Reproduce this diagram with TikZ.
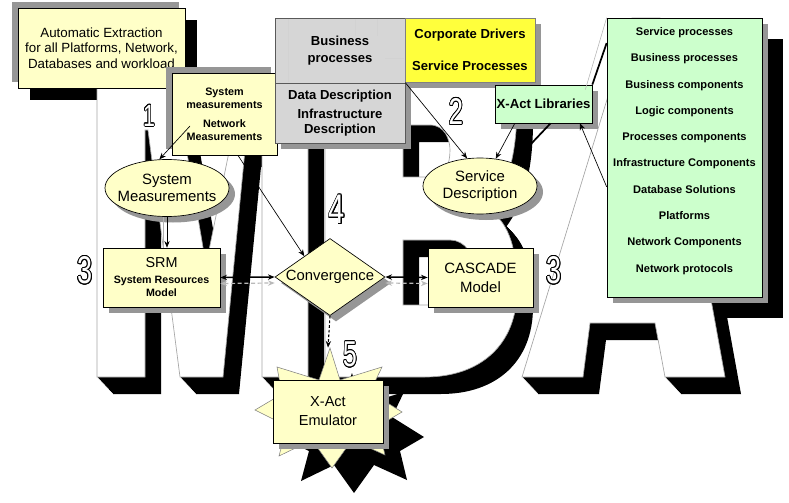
\documentclass[tikz,border=0pt]{standalone}
\usepackage{fontspec}
\setmainfont{Liberation Sans}
\usepackage{graphicx}
\usepackage{contour}
\contourlength{0.7pt}
\usetikzlibrary{shapes.geometric,shadows,arrows.meta}
\definecolor{yellowl}{RGB}{255,255,200}
\definecolor{yellowb}{RGB}{255,255,60}
\definecolor{greenl}{RGB}{204,255,204}
\definecolor{boxgray}{RGB}{214,214,214}
\definecolor{shgray}{RGB}{150,150,150}
\definecolor{outl}{RGB}{165,165,165}
\newcommand{\setfs}[2]{\fontsize{#1pt}{#2pt}\selectfont}
\begin{document}
\begin{tikzpicture}[x=0.75pt,y=-0.75pt,
  >={Stealth[length=5pt,width=4pt]},
  sh/.style={drop shadow={shadow xshift=4.5pt,shadow yshift=-4.5pt,fill=shgray,opacity=1}},
  shtl/.style={general shadow={shadow xshift=-4.5pt,shadow yshift=4.5pt,fill=shgray,opacity=1}},
  ybox/.style={rectangle,draw=black,line width=0.5pt,fill=yellowl,inner sep=0pt,align=center},
  gbox/.style={rectangle,draw=gray!70!black,line width=0.5pt,fill=boxgray,inner sep=0pt,align=center},
  gnbox/.style={rectangle,draw=black,line width=0.5pt,fill=greenl,inner sep=0pt,align=center},
  yell/.style={ellipse,draw=black,line width=0.5pt,fill=yellowl,inner xsep=-5pt,inner ysep=0pt,align=center,font=\setfs{11.2}{12.75}},
  diam/.style={diamond,aspect=1.43,draw=black,line width=0.5pt,fill=yellowl,inner sep=0pt,
     minimum width=110*0.75pt,minimum height=77*0.75pt,font=\setfs{11.1}{12}},
  arr/.style={->,line width=0.5pt},
  hdarr/.style={<->,line width=1.1pt},
  gdarr/.style={<->,draw=gray!55,dash pattern=on 3pt off 2pt,line width=0.9pt},
  cdash/.style={->,line width=0.8pt,dash pattern=on 2pt off 1.5pt},
  digit/.style={text=white,inner sep=0pt}
]
\useasboundingbox (0,0) rectangle (789,503);
\fill[white] (0,0) rectangle (789,503);

% black drop shadows lying under the letters
\fill[black] (30,20) rectangle (197,100);
\fill[black] (628,39) rectangle (783,318);

% big background letters with black extrusion
\def\Mpath{(97,88) -- (176,88) -- (206,265) -- (242,88) -- (308,88) -- (308,377) -- (262,377) -- (262,150) -- (245,150) -- (223,377) -- (180,377) -- (148,130) -- (145,130) -- (145,377) -- (97,377) -- cycle}
\def\Bpath{(325,25) -- (455,25) .. controls (495,25) and (517,60) .. (517,105) .. controls (517,160) and (505,190) .. (490,210) .. controls (510,225) and (517,250) .. (517,290) .. controls (517,345) and (480,377) .. (425,377) -- (325,377) -- cycle
 (403,125) -- (430,125) .. controls (445,125) and (450,140) .. (450,150) .. controls (450,165) and (445,177) .. (430,177) -- (403,177) -- cycle
 (403,240) -- (450,240) .. controls (465,240) and (475,255) .. (475,272) .. controls (475,292) and (465,305) .. (450,305) -- (403,305) -- cycle}
\def\Apath{(522,377) -- (632,18) -- (660,18) -- (725,377) -- (665,377) -- (655,323) -- (590,323) -- (583,377) -- cycle}

\foreach \i in {1,...,17}{\fill[black,shift={(\i*16/17,\i)}] \Mpath;}
\filldraw[fill=white,draw=outl,line width=0.5pt] \Mpath;
\foreach \i in {1,...,17}{\fill[black,even odd rule,shift={(\i*16/17,\i)}] \Bpath;}
\filldraw[fill=white,draw=outl,line width=0.5pt,even odd rule] \Bpath;
\foreach \i in {1,...,17}{\fill[black,shift={(\i*16/17,\i)}] \Apath;}
\filldraw[fill=white,draw=outl,line width=0.5pt] \Apath;

% boxes
\node[ybox,shtl,minimum width=167*0.75pt,minimum height=80*0.75pt,font=\setfs{10}{11.6}] (auto) at (101.5,48)
  {Automatic Extraction\\for all Platforms, Network,\\Databases and workload};
\node[ybox,shtl,minimum width=105*0.75pt,minimum height=82*0.75pt,font=\bfseries\setfs{8.1}{9.75}] (sysbox) at (224.5,114)
  {System\\measurements\\[4.5pt]Network\\Measurements};

\node[gbox,sh,minimum width=130*0.75pt,minimum height=65*0.75pt,font=\bfseries\setfs{9.8}{12.75}] (bus) at (340,50.5)
  {Business\\processes};
\draw[gray!35,line width=0.4pt] (288,19) -- (288,82) (355,19) -- (355,36) (377,19) -- (377,36) (385,58) -- (404,58);
\node[gbox,sh,minimum width=130*0.75pt,minimum height=60*0.75pt,font=\bfseries\setfs{9.8}{11.25}] (datadesc) at (340,113)
  {Data Description\\[3.5pt]Infrastructure\\Description};
\node[rectangle,draw=gray,line width=0.4pt,fill=yellowb,sh,inner sep=0pt,align=center,
  minimum width=130*0.75pt,minimum height=64*0.75pt,font=\bfseries\setfs{9.8}{12}] (corp) at (470,50)
  {Corporate Drivers\\[12pt]Service Processes};
\node[gnbox,sh,minimum width=97*0.75pt,minimum height=38*0.75pt,font=\bfseries\setfs{9.9}{12}] (xlib) at (543.5,104)
  {X-Act Libraries};
\node[gnbox,sh,minimum width=155*0.75pt,minimum height=279*0.75pt] (list) at (684.5,157.5) {};
\node[align=center,inner sep=0pt,font=\bfseries\setfs{8.3}{19.7}] (listitems) at (684.5,151)
  {Service processes\\Business processes\\Business components\\Logic components\\Processes components\\Infrastructure Components\\Database Solutions\\Platforms\\Network Components\\Network protocols};

\node[yell,sh,minimum width=124*0.75pt,minimum height=57*0.75pt] (sysm) at (167,188) {System\\Measurements};
\node[yell,sh,minimum width=114*0.75pt,minimum height=56*0.75pt] (servd) at (480,186) {Service\\Description};

\node[ybox,sh,minimum width=117*0.75pt,minimum height=59*0.75pt,font=\bfseries\setfs{8}{9.75}] (srm) at (161.5,277.5)
  {{\mdseries\setfs{10.8}{10.8}SRM}\\[2.25pt]System Resources\\Model};
\node[diam,sh] (conv) at (330,277) {Convergence};
\node[ybox,sh,minimum width=105*0.75pt,minimum height=59*0.75pt,font=\setfs{11.2}{14.25}] (cascade) at (480.5,277.5)
  {CASCADE\\Model};

% emulator star
\def\Starpath{(330,348) -- (340,380) -- (382,367) -- (370,392) -- (402,412) -- (378,426) -- (385,455) -- (352,440) -- (332,468) -- (312,440) -- (279,456) -- (287,426) -- (255,410) -- (282,394) -- (277,367) -- (319,380) -- cycle}
\fill[black,shift={(22,25)}] \Starpath;
\filldraw[fill=yellowl,draw=gray,line width=0.4pt] \Starpath;
\node[ybox,sh,minimum width=110*0.75pt,minimum height=63*0.75pt,font=\setfs{10.9}{14.25}] (emu) at (328,411.5)
  {X-Act\\Emulator};

% connectors
\coordinate (netm) at (190,126);
\draw[arr] (netm) -- (sysm.105);
\draw[arr] (sysbox.-72) -- (conv.141);
\draw[gray!60,line width=0.5pt] ([xshift=-2.5pt]sysm.south) -- ([xshift=-2.5pt]sysm.south |- srm.north);
\draw[arr] (sysm.south) -- (sysm.south |- srm.north);
\draw[arr] (datadesc.north east) -- (servd.115);
\draw[arr] (xlib.-146) -- (servd.60);
\draw[line width=1.3pt] (servd.35) -- (xlib.-70);
\draw[arr] ([yshift=-22pt]list.west) -- (xlib.-28);
\draw[line width=1.3pt] (xlib.north east) -- ([yshift=-19pt]list.north west);
\draw[gray!60,line width=0.4pt] ([xshift=-5.25pt,yshift=-3.75pt]xlib.north east) -- (list.north west);
\draw[gdarr] ([yshift=-4.5pt]srm.east) -- ([yshift=-4.5pt]conv.west);
\draw[hdarr] (srm.east) -- (conv.west);
\draw[gdarr] ([yshift=-4.5pt]conv.east) -- ([yshift=-4.5pt]cascade.west);
\draw[hdarr] (conv.east) -- (cascade.west);
\draw[cdash] (conv.south) -- ([yshift=24pt]emu.north);

% outlined step numbers
\node[digit,font=\setfs{23}{23}] (n1) at (149,116) {\scalebox{0.7}[1]{\contour{black}{1}}};
\node[digit,font=\setfs{28}{28}] (n2) at (456,112) {\scalebox{0.7}[1]{\contour{black}{2}}};
\node[digit,font=\setfs{29}{29}] (n3a) at (85,271) {\scalebox{0.7}[1]{\contour{black}{3}}};
\node[digit,font=\setfs{29}{29}] (n3b) at (554,271) {\scalebox{0.7}[1]{\contour{black}{3}}};
\node[digit,font=\setfs{31}{31}] (n4) at (337,210) {\scalebox{0.7}[1]{\contour{black}{4}}};
\node[digit,font=\setfs{27}{27}] (n5) at (350,355) {\scalebox{0.7}[1]{\contour{black}{5}}};
\end{tikzpicture}
\end{document}
